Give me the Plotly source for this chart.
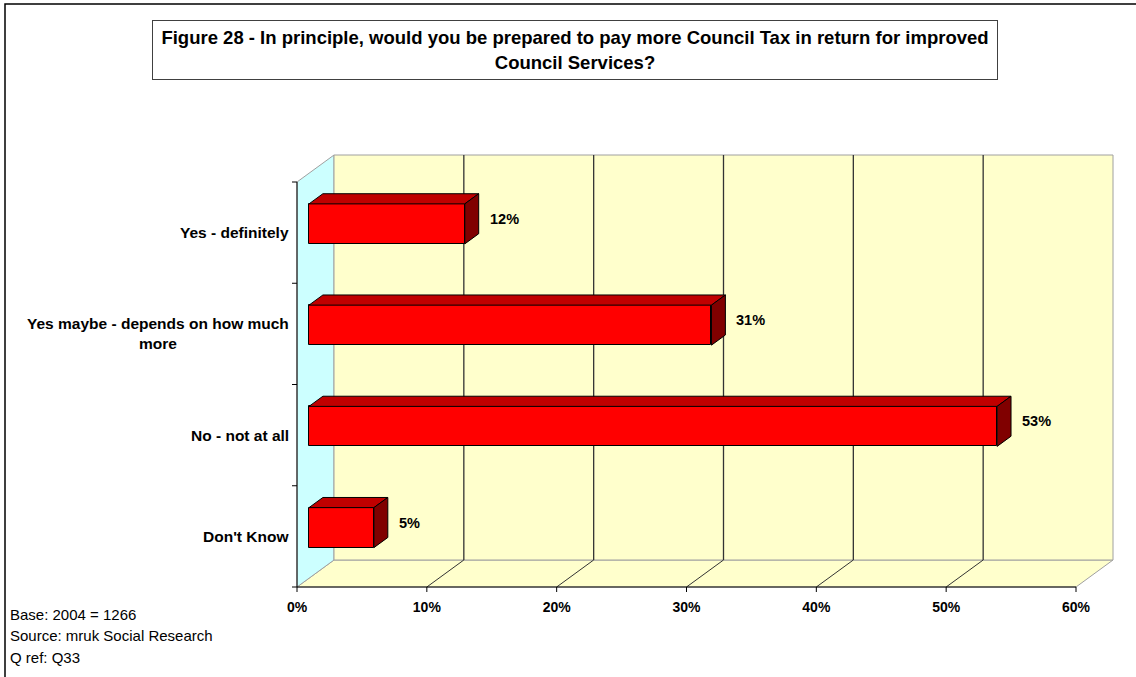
import plotly.graph_objects as go

# ---- data -------------------------------------------------------------
categories = [
    "Yes - definitely",
    "Yes maybe - depends on how much<br>more",
    "No - not at all",
    "Don't Know",
]
values = [12, 31, 53, 5]
x_ticks = [0, 10, 20, 30, 40, 50, 60]
x_tick_labels = ["0%", "10%", "20%", "30%", "40%", "50%", "60%"]

title_text = ("Figure 28 - In principle, would you be prepared to pay more Council Tax "
              "in return for improved<br>Council Services?")
footer_lines = ["Base: 2004 = 1266", "Source: mruk Social Research", "Q ref: Q33"]

# ---- geometry of the pseudo-3D frame ----------------------------------
W, H = 1136, 677
PX_PER_PCT = 779 / 60          # pixels per percentage point on the front plane
PX_PER_CAT = 101.25            # pixels per category band
DEPTH_PX_X, DEPTH_PX_Y = 37, 27
DXU = DEPTH_PX_X / PX_PER_PCT  # depth offset in x data units
DYU = DEPTH_PX_Y / PX_PER_CAT  # depth offset in y data units
PAD = 8                        # px of breathing room around the frame
XMAX = 60
NCAT = len(categories)

front_left_px, front_bottom_px = 297, 587
plot_l = front_left_px - PAD
plot_b = front_bottom_px + PAD
plot_r = front_left_px + XMAX * PX_PER_PCT + DEPTH_PX_X + PAD
plot_t = front_bottom_px - NCAT * PX_PER_CAT - DEPTH_PX_Y - PAD
plot_w = plot_r - plot_l
plot_h = plot_b - plot_t

x_range = [-PAD / PX_PER_PCT, XMAX + DXU + PAD / PX_PER_PCT]
y_range = [-PAD / PX_PER_CAT, NCAT + DYU + PAD / PX_PER_CAT]


def paper_x(px):
    return (px - plot_l) / plot_w


def paper_y(py):
    return (plot_b - py) / plot_h


# bar depth placement (fractions of the full depth) and thickness
D0, D1 = 0.324, 0.70
BAR_H = 40 / PX_PER_CAT

WALL_BACK = "#FFFFCC"
WALL_SIDE = "#CCFFFF"
EDGE_GREY = "#A0A0A0"
GRID = "#333333"
RED_FRONT = "#FF0000"
RED_TOP = "#C00000"
RED_SIDE = "#800000"
FONT = "Arial, Liberation Sans, sans-serif"

shapes = []
# floor
shapes.append(dict(type="path", xref="x", yref="y", layer="below",
                   path=f"M 0 0 L {XMAX} 0 L {XMAX + DXU} {DYU} L {DXU} {DYU} Z",
                   fillcolor=WALL_BACK, line=dict(color=EDGE_GREY, width=1)))
# side wall
shapes.append(dict(type="path", xref="x", yref="y", layer="below",
                   path=f"M 0 0 L 0 {NCAT} L {DXU} {NCAT + DYU} L {DXU} {DYU} Z",
                   fillcolor=WALL_SIDE, line=dict(color=EDGE_GREY, width=1)))
# back wall
shapes.append(dict(type="rect", xref="x", yref="y", layer="below",
                   x0=DXU, x1=XMAX + DXU, y0=DYU, y1=NCAT + DYU,
                   fillcolor=WALL_BACK, line=dict(color=EDGE_GREY, width=1)))
# gridlines on the back wall and their traces across the floor
for v in x_ticks[1:-1]:
    shapes.append(dict(type="line", xref="x", yref="y", layer="below",
                       x0=v + DXU, x1=v + DXU, y0=DYU, y1=NCAT + DYU,
                       line=dict(color=GRID, width=1.3)))
    shapes.append(dict(type="line", xref="x", yref="y", layer="below",
                       x0=v, x1=v + DXU, y0=0, y1=DYU,
                       line=dict(color=GRID, width=1)))
# front axis lines
shapes.append(dict(type="line", xref="x", yref="y", layer="below",
                   x0=0, x1=XMAX, y0=0, y1=0, line=dict(color="black", width=1)))
shapes.append(dict(type="line", xref="x", yref="y", layer="below",
                   x0=0, x1=0, y0=0, y1=NCAT, line=dict(color="black", width=1)))
# tick marks
for v in x_ticks:
    shapes.append(dict(type="line", xref="x", yref="y",
                       x0=v, x1=v, y0=0, y1=-5 / PX_PER_CAT,
                       line=dict(color="black", width=1)))
for k in range(NCAT + 1):
    shapes.append(dict(type="line", xref="x", yref="y",
                       x0=-5 / PX_PER_PCT, x1=0, y0=k, y1=k,
                       line=dict(color="black", width=1)))
# outer chart border
shapes.append(dict(type="rect", xref="paper", yref="paper",
                   x0=paper_x(5), x1=paper_x(W + 10), y0=paper_y(4), y1=paper_y(H + 10),
                   line=dict(color="black", width=1.5)))

fig = go.Figure()

centers = [NCAT - i - 0.5 for i in range(NCAT)]
front_y = [c + D0 * DYU for c in centers]
ddx, ddy = (D1 - D0) * DXU, (D1 - D0) * DYU

# front faces of the bars
fig.add_trace(go.Bar(
    orientation="h", x=values, y=front_y, base=[D0 * DXU] * NCAT,
    width=BAR_H, marker=dict(color=RED_FRONT, line=dict(color="black", width=1)),
    hoverinfo="skip", showlegend=False))

# top and side faces
for v, fy in zip(values, front_y):
    x0 = D0 * DXU
    x1 = x0 + v
    yt = fy + BAR_H / 2
    yb = fy - BAR_H / 2
    fig.add_trace(go.Scatter(
        x=[x0, x1, x1 + ddx, x0 + ddx, x0], y=[yt, yt, yt + ddy, yt + ddy, yt],
        mode="lines", fill="toself", fillcolor=RED_TOP,
        line=dict(color="black", width=1), hoverinfo="skip", showlegend=False))
    fig.add_trace(go.Scatter(
        x=[x1, x1 + ddx, x1 + ddx, x1, x1], y=[yb, yb + ddy, yt + ddy, yt, yb],
        mode="lines", fill="toself", fillcolor=RED_SIDE,
        line=dict(color="black", width=1), hoverinfo="skip", showlegend=False))

annotations = []
DM = (D0 + D1) / 2
for v, c in zip(values, centers):
    annotations.append(dict(
        xref="x", yref="y", x=v + DM * DXU, y=c + DM * DYU,
        text=f"{v}%", showarrow=False, xanchor="left", yanchor="middle",
        xshift=16, font=dict(family=FONT, size=14.5, color="black", weight="bold")))
for cat, c in zip(categories, centers):
    annotations.append(dict(
        xref="x", yref="y", x=0, y=c, text=cat, showarrow=False,
        xanchor="right", yanchor="middle", align="center", xshift=-6,
        font=dict(family=FONT, size=15.5, color="black", weight="bold")))

# title box
annotations.append(dict(
    xref="paper", yref="paper", x=paper_x(575), y=paper_y(50),
    xanchor="center", yanchor="middle", text=title_text, showarrow=False,
    align="center", width=840, height=54, bgcolor="white",
    bordercolor="#404040", borderwidth=1, borderpad=2,
    font=dict(family=FONT, size=18.5, color="black", weight="bold")))

for i, line in enumerate(footer_lines):
    annotations.append(dict(
        xref="paper", yref="paper", x=paper_x(8), y=paper_y(614 + 21.5 * i),
        xanchor="left", yanchor="middle", text=line, showarrow=False,
        font=dict(family=FONT, size=15, color="black")))

fig.update_layout(
    width=W, height=H,
    margin=dict(l=plot_l, r=W - plot_r, t=plot_t, b=H - plot_b, pad=0),
    paper_bgcolor="white", plot_bgcolor="rgba(0,0,0,0)",
    showlegend=False, bargap=0,
    xaxis=dict(range=x_range, tickvals=x_ticks, ticktext=x_tick_labels,
               showgrid=False, zeroline=False, showline=False, ticks="",
               ticklabelstandoff=2,
               tickfont=dict(family=FONT, size=14, color="black", weight="bold"),
               fixedrange=True),
    yaxis=dict(range=y_range, showgrid=False, zeroline=False, showline=False,
               showticklabels=False, ticks="", fixedrange=True),
    shapes=shapes, annotations=annotations,
)

fig.write_html("out.html")
